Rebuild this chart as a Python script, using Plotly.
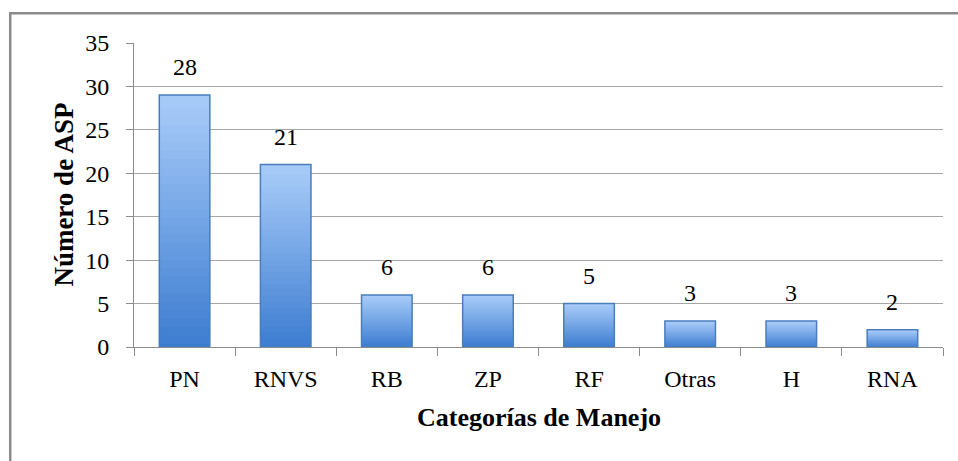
import plotly.graph_objects as go

categories = ["PN", "RNVS", "RB", "ZP", "RF", "Otras", "H", "RNA"]
bar_heights = [29, 21, 6, 6, 5, 3, 3, 2]
value_labels = ["28", "21", "6", "6", "5", "3", "3", "2"]
y_ticks = [0, 5, 10, 15, 20, 25, 30, 35]

FONT = "Liberation Serif"
N = 30
dark = (60, 124, 208)
light = (166, 202, 248)

fig = go.Figure()
for i in range(N):
    t = i / (N - 1)
    c = tuple(round(dark[k] + (light[k] - dark[k]) * t) for k in range(3))
    ov = 0 if i == 0 else 0.6
    fig.add_trace(go.Bar(
        x=categories, y=[h / N * (1 + ov) for h in bar_heights],
        base=[h * (i - ov) / N for h in bar_heights],
        marker=dict(color="rgb(%d,%d,%d)" % c, line=dict(width=0)),
        showlegend=False, hoverinfo="skip",
    ))
# outline
fig.add_trace(go.Bar(
    x=categories, y=bar_heights, base=0,
    marker=dict(color="rgba(0,0,0,0)", line=dict(color="#4A7EBB", width=1.5)),
    showlegend=False, hoverinfo="skip",
))

for c, h, lab in zip(categories, bar_heights, value_labels):
    fig.add_annotation(x=c, y=h, text=lab, showarrow=False, yanchor="bottom",
                       yshift=13, font=dict(family=FONT, size=24, color="#000"))

# axis titles
fig.add_annotation(xref="paper", yref="paper", x=0.5, y=-0.233, yanchor="middle",
                   text="<b>Categorías de Manejo</b>", showarrow=False,
                   font=dict(family=FONT, size=26, color="#000"))
fig.add_annotation(xref="paper", yref="paper", x=-0.087, y=0.5, xanchor="center",
                   yanchor="middle", textangle=-90,
                   text="<b>Número de ASP</b>", showarrow=False,
                   font=dict(family=FONT, size=27, color="#000"))

fig.update_layout(
    barmode="overlay",
    bargap=0.5,
    width=958, height=461,
    margin=dict(l=134, r=15, t=43, b=114, autoexpand=False),
    paper_bgcolor="white", plot_bgcolor="white",
    font=dict(family=FONT, size=24, color="#000"),
    shapes=[dict(type="rect", xref="paper", yref="paper",
                 x0=-0.153, x1=1.05, y0=-0.5, y1=1.098,
                 line=dict(color="#8C8C8C", width=2.5), layer="below")],
)
fig.update_xaxes(
    automargin=False,
    showline=True, linecolor="#8C8C8C", linewidth=1,
    ticks="outside", tickson="boundaries", ticklen=8, tickcolor="#8C8C8C",
    tickfont=dict(family=FONT, size=24), ticklabelstandoff=10,
)
fig.update_yaxes(
    automargin=False,
    range=[0, 35], tickvals=y_ticks, showline=True, linecolor="#8C8C8C", linewidth=1,
    ticks="outside", ticklen=7, tickcolor="#8C8C8C",
    showgrid=True, gridcolor="#A6A6A6", gridwidth=1,
    tickfont=dict(family=FONT, size=24), ticklabelstandoff=12,
    zeroline=False,
)

fig.write_html("out.html", config={"displayModeBar": False},
               post_script="document.body.style.margin='0';")
